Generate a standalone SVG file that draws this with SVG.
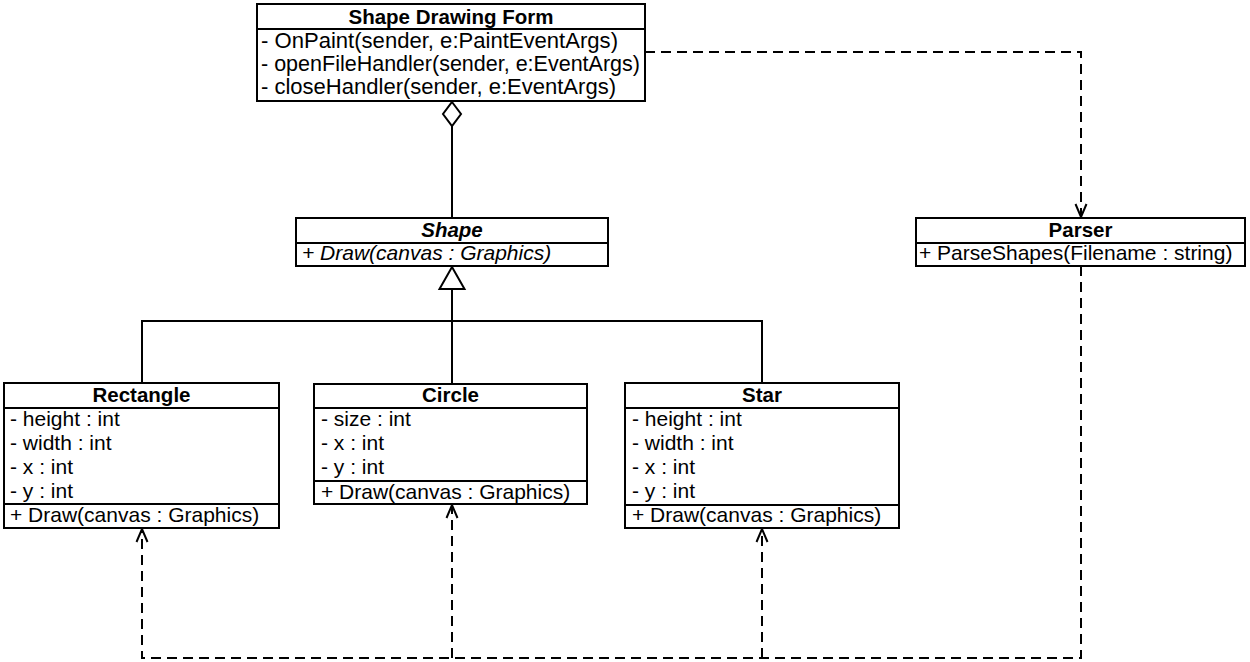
<svg xmlns="http://www.w3.org/2000/svg" width="1250" height="662" viewBox="0 0 1250 662">
  <style>
    .box { fill: #ffffff; stroke: #000000; stroke-width: 2; }
    .sep { stroke: #000000; stroke-width: 2; fill: none; }
    .hdr { font-family: "Liberation Sans", Arial, sans-serif; font-size: 20.5px; font-weight: bold; fill: #000000; text-anchor: middle; }
    .mem { font-family: "Liberation Sans", Arial, sans-serif; font-size: 21px; fill: #000000; }
    .memtop { font-family: "Liberation Sans", Arial, sans-serif; font-size: 22px; fill: #000000; }
    .ital { font-style: italic; }
    .solid { stroke: #000000; stroke-width: 2; fill: none; }
    .dash { stroke: #000000; stroke-width: 2; fill: none; stroke-dasharray: 10 6; }
  </style>
  <defs>
    <marker id="open" viewBox="-14 -8 16 16" refX="0" refY="0" markerUnits="userSpaceOnUse" markerWidth="16" markerHeight="16" orient="auto">
      <path d="M-13,-5.5 L0,0 L-13,5.5" fill="none" stroke="#000000" stroke-width="2"/>
    </marker>
  </defs>

  <g id="connectors">
    <!-- aggregation -->
    <line class="solid" x1="452" y1="126" x2="452" y2="218"/>
    <polygon points="452,102 461,114 452,126 443,114" fill="#ffffff" stroke="#000000" stroke-width="2"/>
    <!-- generalization -->
    <line class="solid" x1="452" y1="289" x2="452" y2="384"/>
    <polyline class="solid" points="142,383 142,321 762,321 762,383"/>
    <polygon points="452,267 464.5,289 439.5,289" fill="#ffffff" stroke="#000000" stroke-width="2"/>
    <!-- dependency form -> parser -->
    <path class="dash" d="M645,52 H1081 V217" marker-end="url(#open)"/>
    <!-- dependencies parser -> shapes -->
    <path class="dash" d="M1081,266 V658 H142 V529" marker-end="url(#open)"/>
    <path class="dash" d="M452,658 V505" marker-end="url(#open)"/>
    <path class="dash" d="M762,658 V529" marker-end="url(#open)"/>
  </g>

  <g id="form">
    <rect class="box" x="257" y="4" width="388" height="97"/>
    <line class="sep" x1="257" y1="29" x2="645" y2="29"/>
    <text class="hdr" x="451" y="24">Shape Drawing Form</text>
    <text class="memtop" x="261" y="48" textLength="357" lengthAdjust="spacingAndGlyphs">- OnPaint(sender, e:PaintEventArgs)</text>
    <text class="memtop" x="261" y="71" textLength="379" lengthAdjust="spacingAndGlyphs">- openFileHandler(sender, e:EventArgs)</text>
    <text class="memtop" x="261" y="94" textLength="355" lengthAdjust="spacingAndGlyphs">- closeHandler(sender, e:EventArgs)</text>
  </g>

  <g id="shape">
    <rect class="box" x="296" y="218" width="312" height="48"/>
    <line class="sep" x1="296" y1="243" x2="608" y2="243"/>
    <text class="hdr ital" x="452" y="237">Shape</text>
    <text class="mem ital" x="302" y="260">+ Draw(canvas : Graphics)</text>
  </g>

  <g id="parser">
    <rect class="box" x="916" y="218" width="329" height="48"/>
    <line class="sep" x1="916" y1="243" x2="1245" y2="243"/>
    <text class="hdr" x="1080.5" y="237">Parser</text>
    <text class="mem" x="919" y="260">+ ParseShapes(Filename : string)</text>
  </g>

  <g id="rectangle">
    <rect class="box" x="4" y="383" width="275" height="145"/>
    <line class="sep" x1="4" y1="408" x2="279" y2="408"/>
    <line class="sep" x1="4" y1="504" x2="279" y2="504"/>
    <text class="hdr" x="141.5" y="402">Rectangle</text>
    <text class="mem" x="10" y="426">- height : int</text>
    <text class="mem" x="10" y="450">- width : int</text>
    <text class="mem" x="10" y="474">- x : int</text>
    <text class="mem" x="10" y="498">- y : int</text>
    <text class="mem" x="10" y="522">+ Draw(canvas : Graphics)</text>
  </g>

  <g id="circle">
    <rect class="box" x="314" y="384" width="273" height="120"/>
    <line class="sep" x1="314" y1="408" x2="587" y2="408"/>
    <line class="sep" x1="314" y1="481" x2="587" y2="481"/>
    <text class="hdr" x="450.5" y="402">Circle</text>
    <text class="mem" x="321" y="426">- size : int</text>
    <text class="mem" x="321" y="450">- x : int</text>
    <text class="mem" x="321" y="474">- y : int</text>
    <text class="mem" x="321" y="499">+ Draw(canvas : Graphics)</text>
  </g>

  <g id="star">
    <rect class="box" x="625" y="383" width="274" height="145"/>
    <line class="sep" x1="625" y1="408" x2="899" y2="408"/>
    <line class="sep" x1="625" y1="505" x2="899" y2="505"/>
    <text class="hdr" x="762" y="402">Star</text>
    <text class="mem" x="632" y="426">- height : int</text>
    <text class="mem" x="632" y="450">- width : int</text>
    <text class="mem" x="632" y="474">- x : int</text>
    <text class="mem" x="632" y="498">- y : int</text>
    <text class="mem" x="632" y="522">+ Draw(canvas : Graphics)</text>
  </g>
</svg>
